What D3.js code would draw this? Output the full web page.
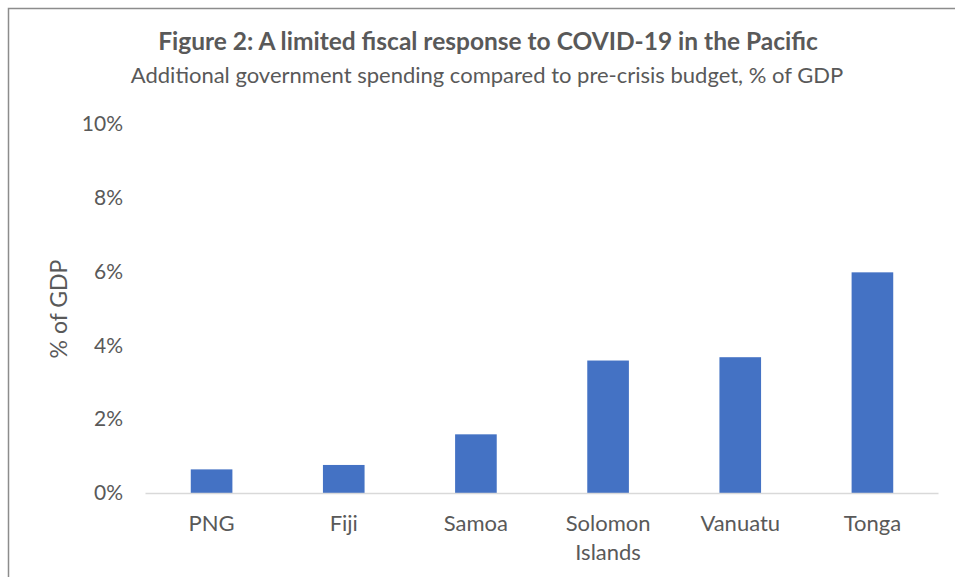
<!DOCTYPE html>
<html>
<head>
<meta charset="utf-8">
<script src="https://cdn.jsdelivr.net/npm/d3@7"></script>
<style>
  html, body { margin: 0; padding: 0; background: #fff; }
  svg { display: block; }
  text { font-family: Lato, "Open Sans", sans-serif; fill: #595959; }
</style>
</head>
<body>
<svg id="chart" width="955" height="577"></svg>
<script>
const categories = ["PNG", "Fiji", "Samoa", "Solomon Islands", "Vanuatu", "Tonga"];
const values = [0.64, 0.76, 1.59, 3.59, 3.68, 5.98];
const yTicks = [0, 2, 4, 6, 8, 10];
const title = "Figure 2: A limited fiscal response to COVID-19 in the Pacific";
const subtitle = "Additional government spending compared to pre-crisis budget, % of GDP";
const yLabel = "% of GDP";

const svg = d3.select("#chart");
const W = 955, H = 577;

// frame
svg.append("path")
  .attr("d", `M8.5,${H} V8.5 H${W}`)
  .attr("fill", "none").attr("stroke", "#8c8c8c").attr("stroke-width", 1.5);

const x = d3.scaleBand().domain(categories).range([145.5, 938.5])
  .paddingInner(0.685).paddingOuter(0.3425);
const y = d3.scaleLinear().domain([0, 10]).range([493, 124]);

svg.append("text").attr("x", 488).attr("y", 50).attr("text-anchor", "middle")
  .style("font-size", "24.5px").style("font-weight", "bold").text(title);
svg.append("text").attr("x", 487).attr("y", 83).attr("text-anchor", "middle")
  .style("font-size", "22px").text(subtitle);

// bars
svg.append("g").selectAll("rect").data(categories).join("rect")
  .attr("x", d => x(d))
  .attr("width", x.bandwidth())
  .attr("y", (d, i) => y(values[i]))
  .attr("height", (d, i) => y(0) - y(values[i]))
  .attr("fill", "#4472C4");

// baseline
svg.append("line").attr("x1", 145.5).attr("x2", 938.5)
  .attr("y1", y(0) + 0.5).attr("y2", y(0) + 0.5)
  .attr("stroke", "#d9d9d9").attr("stroke-width", 1.5);

// y axis
const yAxis = d3.axisLeft(y).tickValues(yTicks).tickFormat(d => d + "%").tickSize(0).tickPadding(0);
const gy = svg.append("g").attr("transform", "translate(123,0)").call(yAxis);
gy.select(".domain").remove();
gy.selectAll("text").style("font-size", "21px").style("fill", "#595959")
  .style("font-family", "Lato, sans-serif");

// x axis
const xAxis = d3.axisBottom(x).tickSize(0).tickPadding(0);
const gx = svg.append("g").attr("transform", `translate(0,${y(0)})`).call(xAxis);
gx.select(".domain").remove();
gx.selectAll("text").remove();
gx.selectAll(".tick").each(function(d) {
  const words = d.split(" ");
  const t = d3.select(this).append("text").attr("text-anchor", "middle")
    .style("font-size", "22px").style("fill", "#595959").style("font-family", "Lato, sans-serif");
  words.forEach((w, i) => {
    t.append("tspan").attr("x", 0).attr("y", 38 + i * 29).text(w);
  });
});

// y label
svg.append("text")
  .attr("transform", "translate(67,309) rotate(-90)")
  .attr("text-anchor", "middle")
  .style("font-size", "23px").text(yLabel);
</script>
</body>
</html>
